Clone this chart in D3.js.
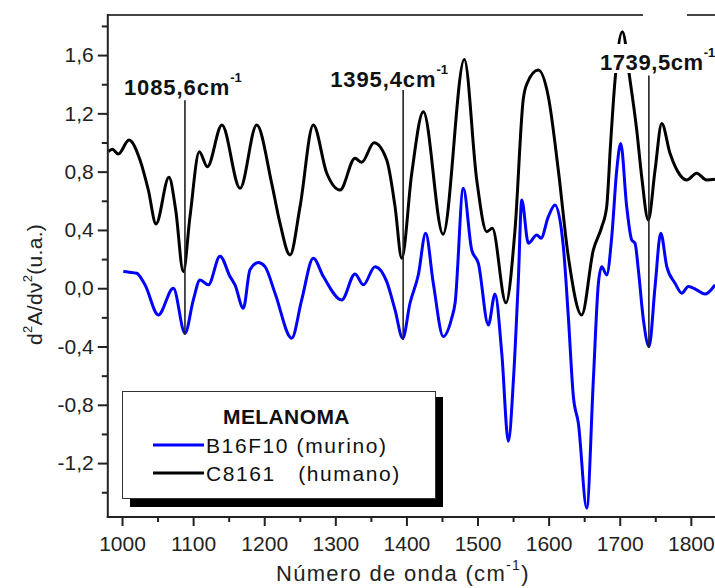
<!DOCTYPE html>
<html><head><meta charset="utf-8">
<script src="https://cdn.jsdelivr.net/npm/d3@7"></script>
<style>
html,body{margin:0;padding:0;background:#fff;}
svg{display:block;font-family:"Liberation Sans",Arial,sans-serif;}
</style></head>
<body>
<svg id="chart" width="715" height="588"></svg>
<script>
// ---- data ----
const blackWn = [980.7,986.4,994.8,1009.8,1025.3,1037,1047.8,1066,1075.5,1086.2,1095.6,1108.7,1120,1140.5,1166,1189.4,1210.5,1222.2,1236.3,1250.4,1269,1288,1306.6,1327.7,1337.1,1354.4,1372.3,1384,1393.4,1407.5,1423.8,1451.5,1481.4,1498.9,1513,1520.8,1540,1552.7,1564.4,1569.2,1585.5,1599.6,1613.6,1627.7,1646.5,1662.9,1674.7,1681.7,1687,1693.4,1703.7,1714.5,1723.9,1730.9,1740.2,1749.7,1759.1,1770.7,1784.8,1794.2,1808.2,1822.3,1834];
const blackVal = [0.937,0.953,0.921,1.017,0.88,0.674,0.441,0.761,0.537,0.114,0.491,0.937,0.834,1.12,0.686,1.12,0.72,0.446,0.228,0.56,1.12,0.789,0.674,0.892,0.864,0.999,0.88,0.56,0.206,0.789,1.211,0.37,1.57,0.743,0.388,0.411,-0.10,0.4,1.30,1.40,1.497,1.314,0.811,0.217,-0.183,0.263,0.42,0.56,0.98,1.428,1.76,1.428,1.086,0.765,0.468,0.811,1.131,0.926,0.777,0.743,0.789,0.743,0.748];
const blueWn = [1001.8,1010,1020.7,1032.3,1051.1,1072.2,1088.6,1100.3,1109.7,1121.4,1137.8,1151.9,1158.9,1170.6,1180,1191.7,1201.1,1215.2,1238.7,1252.7,1269,1283.2,1309,1327.7,1339.4,1355.8,1372.3,1384,1394.8,1405,1416.7,1427.1,1437.8,1451.9,1463.7,1468.4,1480,1491.8,1501.2,1515.2,1524.6,1534.1,1543.4,1550.5,1557.4,1562.2,1571.5,1583.3,1589.3,1599.6,1609,1620.7,1627.7,1634.8,1641.8,1653.6,1662.9,1670,1674.7,1681.7,1688.8,1695.8,1701.4,1709.8,1716.9,1721.5,1726.2,1733.3,1741.3,1749.7,1757.7,1766.2,1777.8,1787.2,1796.5,1808.2,1820,1834];
const blueVal = [0.114,0.11,0.103,0.023,-0.183,0.0,-0.309,-0.08,0.057,0.023,0.22,0.08,0.023,-0.137,0.126,0.176,0.148,-0.034,-0.343,-0.08,0.206,0.08,-0.08,0.098,0.023,0.148,0.045,-0.149,-0.343,-0.103,0.091,0.377,0.034,-0.332,-0.206,-0.103,0.686,0.263,0.171,-0.252,-0.04,-0.446,-1.05,-0.629,0.057,0.606,0.309,0.366,0.343,0.491,0.571,0.285,-0.195,-0.743,-0.926,-1.509,-0.629,0.034,0.148,0.091,0.354,0.811,0.994,0.56,0.331,0.309,0.126,-0.217,-0.4,0.011,0.377,0.148,0.034,-0.034,0.011,-0.011,-0.04,0.023];
const seriesNames = ["B16F10 (murino)", "C8161   (humano)"];
const legendTitle = "MELANOMA";
const xTicks = [1000,1100,1200,1300,1400,1500,1600,1700,1800];
const xMinor = [1050,1150,1250,1350,1450,1550,1650,1750];
const yTicks = [-1.2,-0.8,-0.4,0.0,0.4,0.8,1.2,1.6];
const yMinor = [-1.4,-1.0,-0.6,-0.2,0.2,0.6,1.0,1.4,1.8];
const annotWn = [1088.5, 1395.4, 1741];
const annotTop = [1.29, 1.36, 1.46];
const annotBottom = [-0.32, -0.355, -0.41];
const annotLabel = ["1085,6cm", "1395,4cm", "1739,5cm"];

// ---- layout ----
const svg = d3.select("#chart");
const L = 107.8, R = 715, T = 15, B = 517;
const x = d3.scaleLinear().domain([980, 1834]).range([L, R]);
const y = d3.scaleLinear().domain([-1.57, 1.875]).range([B, T]);
const fmt = d => d3.format(".1f")(d).replace(".", ",").replace("−", "-");
const font = '"Liberation Sans", Arial, sans-serif';

svg.append("defs").append("clipPath").attr("id","clip")
  .append("rect").attr("x", L).attr("y", T).attr("width", R - L).attr("height", B - T);

const plot = svg.append("g").attr("clip-path","url(#clip)");
const line = d3.line().x(d => x(d[0])).y(d => y(d[1])).curve(d3.curveMonotoneX);
const blackData = blackWn.map((w,i) => [w, blackVal[i]]);
const blueData = blueWn.map((w,i) => [w, blueVal[i]]);
plot.append("path").attr("d", line(blackData)).attr("fill","none").attr("stroke","#000").attr("stroke-width",3).attr("stroke-linejoin","round");
plot.append("path").attr("d", line(blueData)).attr("fill","none").attr("stroke","#0000ff").attr("stroke-width",3).attr("stroke-linejoin","round");

// annotation lines
annotWn.forEach((w,i) => {
  plot.append("line").attr("x1", x(w)).attr("x2", x(w)).attr("y1", y(annotTop[i])).attr("y2", y(annotBottom[i]))
    .attr("stroke","#222").attr("stroke-width",1.6);
});

// white patch behind the third label
svg.append("rect").attr("x", 598).attr("y", 44).attr("width", 117).attr("height", 29).attr("fill","#fff");

// annotation labels
const labDx = [-61, -73, -49];
const labBase = [95, 87, 70];
const labSpacing = [0.9, 0.9, 0.6];
annotWn.forEach((w,i) => {
  const t = svg.append("text").attr("x", x(w) + labDx[i]).attr("y", labBase[i])
    .attr("font-family", font).attr("font-weight","bold").attr("font-size", 22).attr("fill","#111")
    .attr("letter-spacing", labSpacing[i]);
  t.append("tspan").text(annotLabel[i]);
  t.append("tspan").attr("dy", -13).attr("font-size", 13).attr("letter-spacing", 0).text("-1");
});

// frame
svg.append("line").attr("x1", L).attr("x2", R).attr("y1", T).attr("y2", T).attr("stroke","#444").attr("stroke-width",2);
svg.append("rect").attr("x", 643).attr("y", 12).attr("width", 44).attr("height", 6).attr("fill","#fff");

// axes
const gx = svg.append("g").attr("transform", `translate(0,${B})`)
  .call(d3.axisBottom(x).tickValues(xTicks).tickSize(9).tickPadding(7).tickFormat(d3.format("d")));
const gxm = svg.append("g").attr("transform", `translate(0,${B})`)
  .call(d3.axisBottom(x).tickValues(xMinor).tickSize(5).tickFormat(""));
const gy = svg.append("g").attr("transform", `translate(${L},0)`)
  .call(d3.axisLeft(y).tickValues(yTicks).tickSize(10).tickPadding(4).tickFormat(fmt));
const gym = svg.append("g").attr("transform", `translate(${L},0)`)
  .call(d3.axisLeft(y).tickValues(yMinor).tickSize(6).tickFormat(""));
[gx,gxm,gy,gym].forEach(g => {
  g.select(".domain").remove();
  g.selectAll(".tick line").attr("stroke","#222").attr("stroke-width",2);
});
[gx,gy].forEach(g => g.selectAll(".tick text").attr("font-family", font).attr("font-size", 21).attr("fill","#222"));
gx.selectAll(".tick text").attr("dy", "0.85em");
svg.append("line").attr("x1", L).attr("x2", L).attr("y1", T - 1).attr("y2", B + 1).attr("stroke","#222").attr("stroke-width",2);
svg.append("line").attr("x1", L - 1).attr("x2", R).attr("y1", B).attr("y2", B).attr("stroke","#222").attr("stroke-width",2);

// axis titles
const xt = svg.append("text").attr("x", 276).attr("y", 581).attr("font-family", font).attr("font-size", 22).attr("letter-spacing", 1.3).attr("fill","#222");
xt.append("tspan").text("Número de onda (cm");
xt.append("tspan").attr("dy", -11).attr("font-size", 14).text("-1");
xt.append("tspan").attr("dy", 11).text(")");

const yt = svg.append("text").attr("transform", "translate(42,345) rotate(-90)").attr("font-family", font).attr("font-size", 21).attr("letter-spacing", 0.3).attr("fill","#222");
yt.append("tspan").text("d");
yt.append("tspan").attr("dy", -10).attr("font-size", 13).text("2");
yt.append("tspan").attr("dy", 10).text("A/dν");
yt.append("tspan").attr("dy", -10).attr("font-size", 13).text("2");
yt.append("tspan").attr("dy", 10).text("(u.a.)");

// legend
const lg = svg.append("g");
lg.append("rect").attr("x", 130).attr("y", 397).attr("width", 313).attr("height", 110).attr("fill","#000");
lg.append("rect").attr("x", 122.5).attr("y", 391.5).attr("width", 313).attr("height", 107).attr("fill","#fff").attr("stroke","#333").attr("stroke-width",1);
lg.append("text").attr("x", 223).attr("y", 424).attr("font-family", font).attr("font-weight","bold").attr("font-size", 21).attr("letter-spacing", 0.4).attr("fill","#111").text(legendTitle);
const legColors = ["#0000ff", "#000"];
const legY = [445, 473];
seriesNames.forEach((n,i) => {
  lg.append("line").attr("x1", 153).attr("x2", 204).attr("y1", legY[i]).attr("y2", legY[i]).attr("stroke", legColors[i]).attr("stroke-width",3);
  lg.append("text").attr("x", 206).attr("y", legY[i] + 8).attr("font-family", font).attr("font-size", 21).attr("fill","#111")
    .style("white-space","pre").attr("letter-spacing", 1.6).text(n);
});
</script>
</body></html>
